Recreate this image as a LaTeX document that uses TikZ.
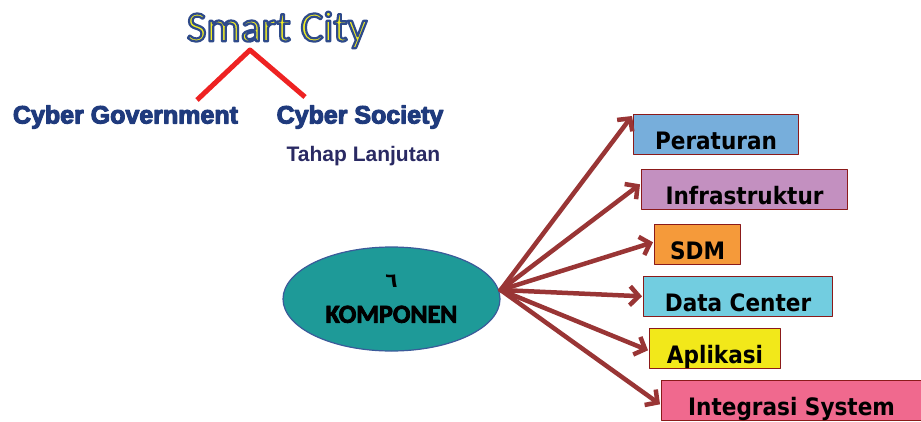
\documentclass[tikz,border=0pt]{standalone}
\usepackage{fontspec}
\usepackage{tikz}
\usetikzlibrary{calc,positioning,shapes.geometric,arrows.meta}
\newfontfamily\calibri{Carlito}
\newfontfamily\arialfont{Liberation Sans}
\newfontfamily\tahomafont{DejaVu Sans Condensed}
\newfontfamily\arabicfont[Script=Arabic]{DejaVu Sans}
\definecolor{titleyellow}{HTML}{F2EE22}
\definecolor{titleblue}{HTML}{2E4A8A}
\definecolor{cybernavy}{HTML}{1F3A7D}
\definecolor{stagenavy}{HTML}{2A2A63}
\definecolor{branchred}{HTML}{EE2222}
\definecolor{arrowred}{HTML}{993535}
\definecolor{boxedge}{HTML}{8B1A1A}
\definecolor{teal}{HTML}{1E9A98}
\definecolor{ellipseedge}{HTML}{3B5A9A}
\definecolor{perblue}{HTML}{77AEDB}
\definecolor{infpurple}{HTML}{C390C0}
\definecolor{sdmorange}{HTML}{F59A3A}
\definecolor{dccyan}{HTML}{72CDE0}
\definecolor{appyellow}{HTML}{F2E81A}
\definecolor{intpink}{HTML}{F0698E}
% stroked text: #1 = stroke rgb, #2 = stroke width, #3 = text
\newcommand{\StrokeText}[3]{%
  \special{pdf:literal direct 2 Tr #2 w #1 RG}#3\special{pdf:literal direct 0 Tr}}
\tikzset{
  CompBox/.style={
    draw=boxedge, line width=1.1pt,
    anchor=north west, inner xsep=0pt, inner ysep=2pt,
    text height=33pt, text depth=2.5pt,
    font=\tahomafont\bfseries\fontsize{24}{24}\selectfont
  },
  CompArrow/.style={
    draw=arrowred, line width=4.5pt, line cap=round,
    -{Straight Barb[length=9pt,width=19pt]}
  },
  Branch/.style={draw=branchred, line width=5pt},
  CyberText/.style={text=cybernavy, font=\arialfont\bfseries\fontsize{25}{25}\selectfont}
}
\begin{document}
\begin{tikzpicture}[x=1pt, y=-1pt, line join=round]
  \useasboundingbox (0,0) rectangle (921,421);

  % title
  \node[text=titleyellow, font=\calibri\fontsize{43}{43}\selectfont]
    (title) at (277,30) {\StrokeText{0.18 0.29 0.54}{2.2}{Smart City}};

  \coordinate (apex) at (250,50);
  \coordinate (govtop) at (197,100);
  \coordinate (soctop) at (305,97);
  \draw[Branch] (govtop) -- (apex) -- (soctop);

  \node[CyberText] (gov) at (125.5,117) {\StrokeText{0.12 0.23 0.49}{1.1}{Cyber Government}};
  \node[CyberText] (soc) at (360,117) {\StrokeText{0.12 0.23 0.49}{1.1}{Cyber Society}};
  \node[text=stagenavy, font=\arialfont\bfseries\fontsize{21}{21}\selectfont]
    (stage) at (363.5,156) {Tahap Lanjutan};

  % six components
  \node[ellipse, draw=ellipseedge, line width=1.2pt, fill=teal,
        minimum width=217pt, minimum height=104pt, inner sep=0pt,
        align=center, font=\calibri\bfseries\fontsize{26}{35}\selectfont]
    (komp) at (391.5,299) {{\arabicfont\fontsize{20}{20}\selectfont ٦}\\\StrokeText{0 0 0}{0.8}{KOMPONEN}};

  \node[CompBox, fill=perblue, minimum width=165pt] (per) at (633,114) {Peraturan};
  \node[CompBox, fill=infpurple, minimum width=206pt] (inf) at (641,169) {Infrastruktur};
  \node[CompBox, fill=sdmorange, minimum width=86pt] (sdm) at (654,224) {SDM};
  \node[CompBox, fill=dccyan, minimum width=189pt] (dc) at (643,276) {Data Center};
  \node[CompBox, fill=appyellow, minimum width=131pt] (app) at (649,328) {Aplikasi};
  \node[CompBox, fill=intpink, minimum width=260pt] (int) at (661,380) {Integrasi System};

  \coordinate (hub) at ($(komp.east)+(0,-9)$);
  \draw[CompArrow] (hub) -- ($(per.north west)+(-1,2)$);
  \draw[CompArrow] (hub) -- ($(inf.west)+(-1,-5)$);
  \draw[CompArrow] (hub) -- ($(sdm.west)+(-1,-2)$);
  \draw[CompArrow] (hub) -- ($(dc.west)+(-1,0)$);
  \draw[CompArrow] (hub) -- ($(app.west)+(-1,2)$);
  \draw[CompArrow] (hub) -- ($(int.west)+(-1,4)$);
\end{tikzpicture}
\end{document}
